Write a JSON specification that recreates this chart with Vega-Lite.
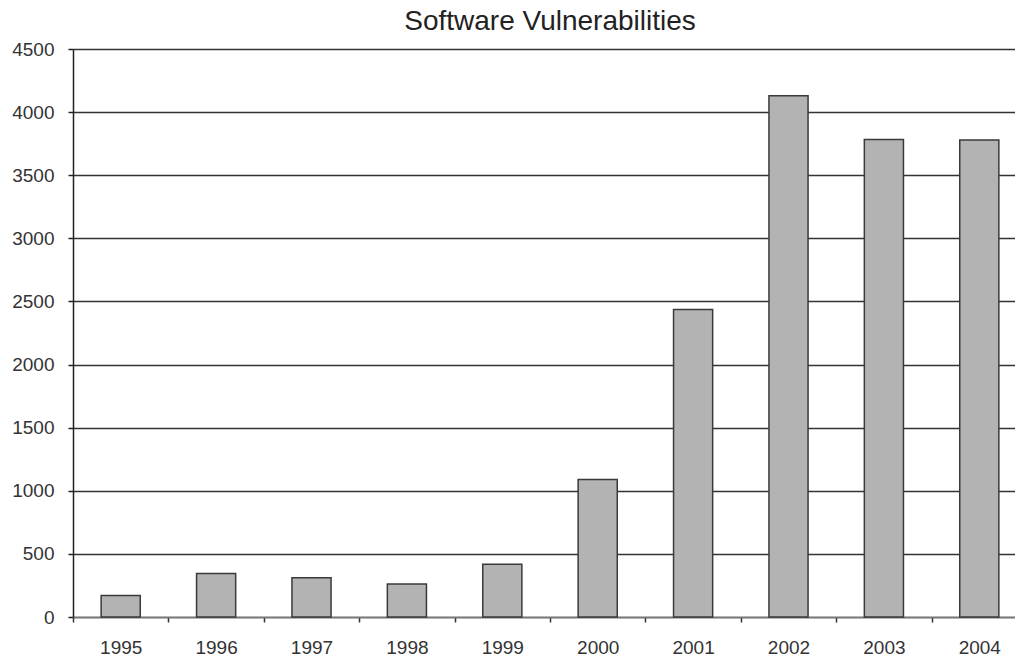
{
  "$schema": "https://vega.github.io/schema/vega-lite/v6.json",
  "autosize": "none",
  "padding": {"left": 73, "top": 49, "right": -12, "bottom": 40},
  "width": 954,
  "height": 568,
  "background": "white",
  "title": {
    "text": "Software Vulnerabilities",
    "font": "Liberation Sans",
    "fontSize": 28,
    "fontWeight": "normal",
    "color": "#222222",
    "anchor": "middle",
    "offset": 4
  },
  "config": {
    "view": {"stroke": null},
    "axis": {
      "labelFont": "Liberation Sans",
      "labelFontSize": 19,
      "labelColor": "#333333"
    }
  },
  "data": {
    "values": [
      {"year": "1995", "vulnerabilities": 171},
      {"year": "1996", "vulnerabilities": 345},
      {"year": "1997", "vulnerabilities": 311},
      {"year": "1998", "vulnerabilities": 262},
      {"year": "1999", "vulnerabilities": 417},
      {"year": "2000", "vulnerabilities": 1090},
      {"year": "2001", "vulnerabilities": 2437},
      {"year": "2002", "vulnerabilities": 4129},
      {"year": "2003", "vulnerabilities": 3784},
      {"year": "2004", "vulnerabilities": 3780}
    ]
  },
  "mark": {
    "type": "bar",
    "width": {"band": 0.41},
    "fill": "#b3b3b3",
    "stroke": "#3a3a3a",
    "strokeWidth": 1.5
  },
  "encoding": {
    "x": {
      "field": "year",
      "type": "ordinal",
      "scale": {"type": "band", "paddingInner": 0, "paddingOuter": 0},
      "axis": {
        "title": null,
        "labelAngle": 0,
        "tickBand": "extent",
        "labelPadding": 16,
        "tickSize": 5,
        "tickColor": "#333333",
        "tickWidth": 1.5,
        "domainColor": "#777777",
        "domainWidth": 1.5,
        "grid": false
      }
    },
    "y": {
      "field": "vulnerabilities",
      "type": "quantitative",
      "scale": {"domain": [0, 4500], "nice": false},
      "axis": {
        "title": null,
        "values": [0, 500, 1000, 1500, 2000, 2500, 3000, 3500, 4000, 4500],
        "format": "d",
        "tickSize": 5,
        "tickColor": "#222222",
        "tickWidth": 1.5,
        "labelPadding": 14,
        "domainColor": "#222222",
        "domainWidth": 1.5,
        "grid": true,
        "gridColor": "#333333",
        "gridWidth": 1.5,
        "gridOpacity": 1
      }
    }
  }
}
